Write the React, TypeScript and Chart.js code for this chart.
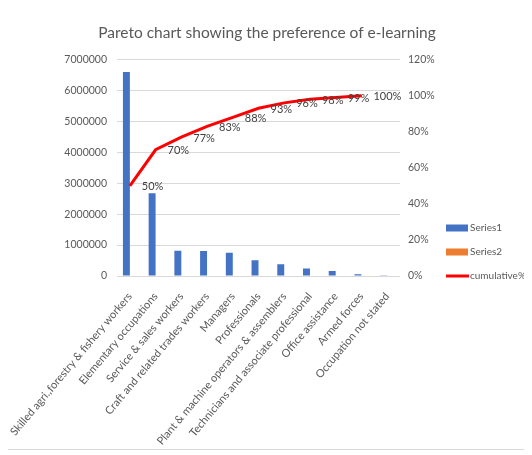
import React, { useEffect, useRef } from "react";
import { Chart, registerables } from "chart.js";

Chart.register(...registerables);

const categories = [
  "Skilled agri.,forestry & fishery workers",
  "Elementary occupations",
  "Service & sales workers",
  "Craft and related trades workers",
  "Managers",
  "Professionals",
  "Plant & machine operators & assemblers",
  "Technicians and associate professional",
  "Office assistance",
  "Armed forces",
  "Occupation not stated",
];
const series1 = [6600000, 2680000, 820000, 810000, 750000, 510000, 380000, 240000, 160000, 60000, 5000];
const series2: (number | null)[] = [null, null, null, null, null, null, null, null, null, null, null];
const cumulative: (number | null)[] = [50, 70, 77, 83, 88, 93, 96, 98, 99, 100, null];
const leftTicks = [0, 1000000, 2000000, 3000000, 4000000, 5000000, 6000000, 7000000];
const rightTicks = [0, 20, 40, 60, 80, 100, 120];

const FONT = "Lato, 'Liberation Sans', sans-serif";
const GRAY = "#595959";

const dataLabelPlugin = {
  id: "cumLabels",
  afterDatasetsDraw(chart: any) {
    const meta = chart.getDatasetMeta(0);
    const ctx = chart.ctx;
    ctx.save();
    ctx.font = `11px ${FONT}`;
    ctx.fillStyle = "#404040";
    ctx.textAlign = "left";
    ctx.textBaseline = "middle";
    meta.data.forEach((pt: any, i: number) => {
      const v = cumulative[i];
      if (v === null || v === undefined) return;
      ctx.fillText(v + "%", pt.x + 12, pt.y + 1);
    });
    ctx.restore();
  },
};

const legendPlugin = {
  id: "customLegend",
  afterDraw(chart: any) {
    const ctx = chart.ctx;
    const a = chart.chartArea;
    const x = a.right + 46;
    const items = [
      { label: "Series1", color: "#4472C4", type: "box", y: a.bottom - 48 },
      { label: "Series2", color: "#ED7D31", type: "box", y: a.bottom - 24 },
      { label: "cumulative%", color: "#FF0000", type: "line", y: a.bottom },
    ];
    ctx.save();
    ctx.font = `10px ${FONT}`;
    ctx.textAlign = "left";
    ctx.textBaseline = "middle";
    items.forEach((it) => {
      if (it.type === "box") {
        ctx.fillStyle = it.color;
        ctx.fillRect(x, it.y - 3.5, 22, 7);
      } else {
        ctx.strokeStyle = it.color;
        ctx.lineWidth = 3;
        ctx.beginPath();
        ctx.moveTo(x, it.y);
        ctx.lineTo(x + 23, it.y);
        ctx.stroke();
      }
      ctx.fillStyle = GRAY;
      ctx.fillText(it.label, x + 24, it.y);
    });
    ctx.restore();
  },
};

export default function App() {
  const ref = useRef<HTMLCanvasElement>(null);
  useEffect(() => {
    if (!ref.current) return;
    const chart = new Chart(ref.current, {
      type: "bar",
      data: {
        labels: categories,
        datasets: [
          {
            type: "line",
            label: "cumulative%",
            data: cumulative,
            yAxisID: "y1",
            borderColor: "#FF0000",
            backgroundColor: "#FF0000",
            borderWidth: 3,
            pointRadius: 0,
            tension: 0,
            order: 0,
          } as any,
          {
            type: "bar",
            label: "Series1",
            data: series1,
            yAxisID: "y",
            backgroundColor: "#4472C4",
            categoryPercentage: 0.54,
            barPercentage: 1,
            order: 1,
          },
          {
            type: "bar",
            label: "Series2",
            data: series2,
            yAxisID: "y",
            backgroundColor: "#ED7D31",
            categoryPercentage: 0.54,
            barPercentage: 1,
            order: 2,
          },
        ],
      },
      options: {
        responsive: false,
        animation: false,
        devicePixelRatio: 1,
        layout: { padding: 0 },
        plugins: {
          legend: { display: false },
          tooltip: { enabled: false },
          title: {
            display: true,
            text: "Pareto chart showing the preference of e-learning",
            color: GRAY,
            font: { family: FONT, size: 15.5, weight: "normal" },
            padding: { top: 16, bottom: 17 },
          },
        },
        scales: {
          x: {
            grid: { display: false },
            border: { display: false },
            ticks: {
              color: GRAY,
              font: { family: FONT, size: 11 },
              minRotation: 50,
              maxRotation: 50,
              autoSkip: false,
              padding: 6,
            },
            afterFit: (s: any) => {
              s.height = 173;
              s.paddingLeft = 0;
              s.paddingRight = 0;
            },
          },
          y: {
            position: "left",
            min: 0,
            max: 7000000,
            afterBuildTicks: (s: any) => {
              s.ticks = leftTicks.map((v) => ({ value: v }));
            },
            ticks: {
              color: GRAY,
              font: { family: FONT, size: 10.5 },
              padding: 10,
              callback: (v: any) => String(v),
            },
            grid: { color: "#D9D9D9", drawTicks: false },
            border: { display: false },
            afterFit: (s: any) => {
              s.width = 109;
            },
          },
          y1: {
            position: "right",
            min: 0,
            max: 120,
            afterBuildTicks: (s: any) => {
              s.ticks = rightTicks.map((v) => ({ value: v }));
            },
            ticks: {
              color: GRAY,
              font: { family: FONT, size: 10.5 },
              padding: 8,
              callback: (v: any) => v + "%",
            },
            grid: { drawOnChartArea: false, drawTicks: false },
            border: { display: false },
            afterFit: (s: any) => {
              s.width = 126;
            },
          },
        },
      },
      plugins: [dataLabelPlugin, legendPlugin],
    });
    return () => chart.destroy();
  }, []);
  return (
    <div
      style={{
        width: 518,
        height: 441,
        border: "1px solid #D9D9D9",
        marginLeft: -1,
        marginTop: -1,
        background: "#fff",
      }}
    >
      <canvas ref={ref} width={518} height={441} style={{ display: "block" }} />
    </div>
  );
}
